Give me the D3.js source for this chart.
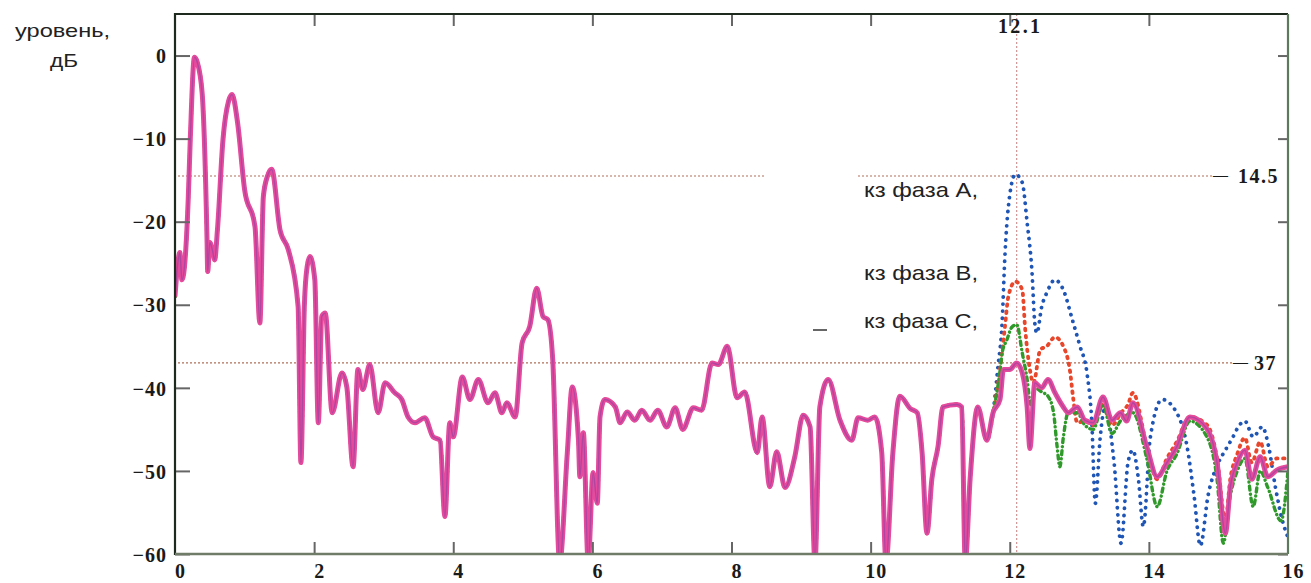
<!DOCTYPE html>
<html><head><meta charset="utf-8">
<script src="https://cdn.jsdelivr.net/npm/d3@7"></script>
<style>body{margin:0;background:#fff}svg{display:block}</style>
</head><body>
<svg id="c" width="1311" height="583"></svg>
<script>
// ---- data ----
const xTicks = [0, 2, 4, 6, 8, 10, 12, 14, 16];
const yTicks = [0, -10, -20, -30, -40, -50, -60];
const yTitle = ["уровень,", "дБ"];
const legendLabels = ["кз фаза А,", "кз фаза В,", "кз фаза С,"];
const markerX = 12.1;
const markerYs = [-14.5, -37];

// part common to all four curves (x, dB)
const sharedPart = [
[0,-29],[0.04,-25],[0.07,-23.7],[0.1,-27],[0.15,-24],[0.19,-17.3],[0.22,-10],[0.28,-0.2],[0.32,-0.8],[0.39,-4.5],
[0.46,-22],[0.47,-26],[0.5,-22.5],[0.54,-23.5],[0.57,-24.6],[0.61,-21],[0.69,-10.1],[0.77,-5.5],[0.82,-4.7],[0.9,-8.1],
[1.0,-16.1],[1.15,-20.6],[1.22,-32.2],[1.27,-17],[1.33,-14.5],[1.39,-13.7],[1.51,-21],[1.63,-23.4],[1.77,-30.2],[1.81,-49],
[1.86,-30],[1.9,-25.4],[1.94,-24.2],[2.01,-27],[2.06,-44.2],[2.11,-31.4],[2.16,-31],[2.26,-43],[2.4,-38.2],[2.47,-39.9],
[2.56,-49.5],[2.63,-37.8],[2.7,-40.2],[2.8,-37.2],[2.92,-43],[3.02,-39.4],[3.16,-40.6],[3.26,-41.4],[3.35,-43.5],[3.45,-44.2],
[3.59,-43.6],[3.71,-45.9],[3.81,-46.3],[3.88,-55.5],[3.95,-44.2],[4.0,-45.9],[4.13,-38.7],[4.24,-41.4],[4.36,-39],[4.5,-41.8],
[4.6,-40.6],[4.7,-43],[4.77,-41.8],[4.89,-43.5],[4.99,-34.6],[5.1,-32.6],[5.2,-28],[5.29,-31.4],[5.36,-31.8],[5.43,-36.6],
[5.53,-61],[5.64,-47.8],[5.71,-39.9],[5.8,-46.3],[5.82,-50.7],[5.87,-45.4],[5.94,-61],[6.01,-50.2],[6.07,-53.9],[6.11,-43.5],
[6.18,-41.4],[6.33,-42.3],[6.4,-44.2],[6.5,-42.9],[6.61,-43.9],[6.71,-42.7],[6.83,-43.9],[6.94,-42.7],[7.07,-44.7],[7.19,-42.4],
[7.3,-45],[7.45,-42.4],[7.57,-42.7],[7.72,-37],[7.81,-37.2],[7.94,-35],[8.08,-41.2],[8.19,-40.5],[8.37,-47.8],[8.44,-43.5],
[8.55,-51.9],[8.65,-47.7],[8.77,-52],[8.91,-48.3],[9.03,-43.3],[9.13,-44.7],[9.2,-61],[9.27,-42.3],[9.39,-39],[9.56,-43.9],
[9.73,-46.3],[9.82,-43.6],[9.96,-43.9],[10.06,-43.5],[10.16,-47.8],[10.22,-61],[10.32,-47.8],[10.42,-41],[10.57,-42.5],[10.67,-43],
[10.74,-47.8],[10.81,-57.5],[10.88,-51],[10.97,-47],[11.04,-42.3],[11.24,-42],[11.31,-42.3],[11.36,-61],[11.43,-51],[11.54,-42.3],
[11.67,-46.3],[11.76,-43]
];
const normalTail = [
[11.86,-41.4],[11.91,-37.8],[12.0,-37.8],[12.1,-37],[12.18,-38.2],[12.25,-42.3],[12.29,-47.3],[12.36,-39.4],[12.46,-40],[12.55,-39],
[12.65,-40.6],[12.77,-42.3],[12.84,-43],[12.97,-42.3],[13.08,-43.9],[13.2,-44.2],[13.34,-41.1],[13.47,-43.9],[13.59,-43],[13.68,-44],
[13.77,-41.8],[13.97,-47.1],[14.12,-50.7],[14.26,-49],[14.4,-47.1],[14.59,-43.5],[14.84,-45],[14.98,-49],[15.1,-57.5],[15.17,-52],
[15.27,-49],[15.38,-47.5],[15.48,-51],[15.6,-48.3],[15.71,-50.7],[15.84,-49.9],[16,-49.5]
];
const phaseATail = [
[11.83,-37.5],[11.89,-32.2],[11.93,-24.2],[11.98,-18.2],[12.08,-14.3],[12.18,-15.3],[12.25,-20.1],[12.32,-26.1],[12.36,-32.2],[12.39,-33.4],
[12.46,-30.2],[12.53,-28.6],[12.65,-27],[12.77,-28.2],[12.9,-31.8],[13.01,-35],[13.11,-38.2],[13.18,-44.2],[13.23,-53.9],[13.3,-46],
[13.37,-42.3],[13.5,-49],[13.6,-58.7],[13.7,-49],[13.77,-47.5],[13.85,-51],[13.92,-56.7],[14.02,-46],[14.19,-41.4],[14.4,-43],
[14.55,-47.1],[14.65,-53],[14.74,-59],[14.85,-53],[15.0,-49],[15.1,-47.5],[15.21,-45.9],[15.3,-44.5],[15.38,-44],[15.5,-45.9],
[15.63,-44.7],[15.72,-47],[15.82,-52],[15.92,-56],[16,-58]
];
const phaseBTail = [
[11.86,-37.8],[11.93,-32.7],[11.98,-29],[12.08,-27.2],[12.18,-28.2],[12.22,-32.7],[12.29,-37.8],[12.34,-39.4],[12.44,-35.4],[12.53,-35],
[12.65,-33.9],[12.77,-35],[12.87,-38.2],[12.91,-41.1],[12.97,-44.2],[13.08,-44],[13.2,-44.5],[13.34,-42],[13.47,-44.5],[13.6,-43],
[13.7,-42],[13.77,-40.6],[13.97,-47],[14.12,-51],[14.26,-48.5],[14.4,-46.5],[14.59,-43.5],[14.84,-44.5],[14.98,-48.5],[15.1,-56],
[15.17,-51],[15.27,-48],[15.38,-46],[15.48,-49],[15.6,-46.5],[15.71,-49.5],[15.84,-48.5],[16,-48.5]
];
const phaseCTail = [
[11.86,-38],[11.89,-35.8],[11.96,-34.2],[12.03,-32.7],[12.1,-32.4],[12.18,-35.8],[12.25,-39],[12.3,-42],[12.36,-40],[12.46,-40.5],
[12.55,-41],[12.63,-43],[12.68,-47],[12.72,-49.5],[12.77,-46],[12.84,-43],[12.97,-43],[13.08,-44.5],[13.2,-45],[13.34,-42],
[13.47,-45.5],[13.59,-44],[13.77,-43],[13.97,-48.5],[14.12,-54.3],[14.26,-50],[14.4,-48],[14.59,-44],[14.84,-46],[14.98,-51],
[15.07,-58.7],[15.17,-53],[15.27,-50],[15.38,-48.5],[15.5,-54.3],[15.6,-50],[15.71,-52],[15.9,-56],[16,-50]
];

const normal = sharedPart.concat(normalTail);
const phaseA = sharedPart.concat(phaseATail);
const phaseB = sharedPart.concat(phaseBTail);
const phaseC = sharedPart.concat(phaseCTail);

// ---- drawing ----
const svg = d3.select("#c");
const L = 175, R = 1288, T = 14, B = 554;
const x = d3.scaleLinear().domain([0, 16]).range([L, R]);
const y = d3.scaleLinear().domain([-60, 5]).range([B, T]);
const serif = "'Liberation Serif','Times New Roman',serif";
const sans = "'Liberation Sans',Arial,sans-serif";

svg.append("defs").append("clipPath").attr("id", "clip")
  .append("rect").attr("x", L).attr("y", T).attr("width", R - L).attr("height", B - T);

// marker lines
const mk = svg.append("g");
mk.append("line").attr("x1", x(markerX)).attr("x2", x(markerX)).attr("y1", T).attr("y2", B)
  .attr("stroke", "#c48a8a").attr("stroke-width", 1.1).attr("stroke-dasharray", "2 2");
mk.append("line").attr("x1", L + 3).attr("x2", 765).attr("y1", y(markerYs[0])).attr("y2", y(markerYs[0]))
  .attr("stroke", "#b0705a").attr("stroke-width", 1.1).attr("stroke-dasharray", "2 2");
mk.append("line").attr("x1", 858).attr("x2", 1213).attr("y1", y(markerYs[0])).attr("y2", y(markerYs[0]))
  .attr("stroke", "#b0705a").attr("stroke-width", 1.1).attr("stroke-dasharray", "2 2");
mk.append("line").attr("x1", L + 3).attr("x2", 1233).attr("y1", y(markerYs[1])).attr("y2", y(markerYs[1]))
  .attr("stroke", "#b0705a").attr("stroke-width", 1.1).attr("stroke-dasharray", "2 2");

// curves
const line = d3.line().curve(d3.curveMonotoneX).x(d => x(d[0])).y(d => y(d[1]));
const g = svg.append("g").attr("clip-path", "url(#clip)");
g.append("path").datum(phaseA).attr("d", line).attr("fill", "none")
  .attr("stroke", "#1f55b5").attr("stroke-width", 3.8).attr("stroke-linecap", "round")
  .attr("stroke-dasharray", "0.1 7");
g.append("path").datum(phaseB).attr("d", line).attr("fill", "none")
  .attr("stroke", "#e8472c").attr("stroke-width", 3.8).attr("stroke-linecap", "round")
  .attr("stroke-dasharray", "1.5 5.5");
g.append("path").datum(phaseC).attr("d", line).attr("fill", "none")
  .attr("stroke", "#2f9a2a").attr("stroke-width", 3.4).attr("stroke-linecap", "round")
  .attr("stroke-dasharray", "4 4 0.1 4");
g.append("path").datum(normal).attr("d", line).attr("fill", "none")
  .attr("stroke", "#e64a9c").attr("stroke-width", 5).attr("stroke-linejoin", "round");
g.append("path").datum(normal).attr("d", line).attr("fill", "none")
  .attr("stroke", "#7a3fa3").attr("stroke-width", 1.4).attr("stroke-opacity", 0.5)
  .attr("stroke-linejoin", "round");

// axes (ticks point inwards)
const ax = svg.append("g");
const axLeft = ax.append("g").attr("transform", `translate(${L},0)`)
  .call(d3.axisLeft(y).tickValues(yTicks).tickSize(-15).tickPadding(8));
const axRight = ax.append("g").attr("transform", `translate(${R},0)`)
  .call(d3.axisRight(y).tickValues(yTicks).tickSize(-10).tickFormat(""));
const axBottom = ax.append("g").attr("transform", `translate(0,${B})`)
  .call(d3.axisBottom(x).tickValues(xTicks.slice(1, -1)).tickSize(-12).tickPadding(10));
const axTop = ax.append("g").attr("transform", `translate(0,${T})`)
  .call(d3.axisTop(x).tickValues(xTicks.slice(1, -1)).tickSize(-12).tickFormat(""));
const axEnds = ax.append("g").attr("transform", `translate(0,${B})`)
  .call(d3.axisBottom(x).tickValues([xTicks[0], xTicks[xTicks.length - 1]]).tickSize(0).tickPadding(10));
[axLeft, axRight, axBottom, axTop, axEnds].forEach(s => {
  s.select(".domain").remove();
  s.selectAll(".tick line").attr("stroke", "#666").attr("stroke-width", 2);
  s.selectAll(".tick text").attr("fill", "#1a1a1a").style("font-family", serif)
    .style("font-size", "20px").style("font-weight", "bold").style("letter-spacing", "1px");
});
axBottom.selectAll(".tick text").attr("dx", 5);
axEnds.selectAll(".tick text").attr("dx", 5);
axLeft.selectAll(".tick text").attr("dy", "0.36em");

// frame
svg.append("line").attr("x1", L).attr("x2", L).attr("y1", T - 1).attr("y2", B + 1).attr("stroke", "#1e2a1e").attr("stroke-width", 2.2);
svg.append("line").attr("x1", L).attr("x2", R).attr("y1", T).attr("y2", T).attr("stroke", "#1e2a1e").attr("stroke-width", 2.2);
svg.append("line").attr("x1", R).attr("x2", R).attr("y1", T).attr("y2", B).attr("stroke", "#5d7a5d").attr("stroke-width", 2.2);
svg.append("line").attr("x1", L).attr("x2", R).attr("y1", B).attr("y2", B).attr("stroke", "#6f7d68").attr("stroke-width", 2.6);

// marker labels
svg.append("text").attr("x", 998).attr("y", 33).attr("textLength", 42).attr("lengthAdjust", "spacing")
  .style("font-family", serif).style("font-size", "20px").style("font-weight", "bold")
  .attr("fill", "#1a1a1a").text(String(markerX));
const mLabelX = [1213, 1233], mNumGap = [10, 6];
markerYs.forEach((v, i) => {
  const t = svg.append("text").attr("x", mLabelX[i]).attr("y", y(v) + 7)
    .style("font-family", serif).style("font-weight", "bold").attr("fill", "#1a1a1a");
  t.append("tspan").attr("dy", -3).style("font-size", "15px").text("\u2014");
  t.append("tspan").attr("dx", mNumGap[i]).attr("dy", 3).style("font-size", "20px").style("letter-spacing", "1.5px")
    .text(String(Math.abs(v)));
});

// legend texts
const legY = [197, 280, 328];
legendLabels.forEach((t, i) => {
  svg.append("text").attr("x", 864).attr("y", legY[i])
    .attr("textLength", 114).attr("lengthAdjust", "spacingAndGlyphs")
    .style("font-family", sans).style("font-size", "21px")
    .attr("fill", "#222").text(t);
});
svg.append("line").attr("x1", 813).attr("x2", 827).attr("y1", 330).attr("y2", 330).attr("stroke", "#333").attr("stroke-width", 1.5);

// y-axis title
svg.append("text").attr("x", 15).attr("y", 37).attr("textLength", 95).attr("lengthAdjust", "spacingAndGlyphs")
  .style("font-family", sans).style("font-size", "19px").attr("fill", "#222").text(yTitle[0]);
svg.append("text").attr("x", 50).attr("y", 67).attr("textLength", 28).attr("lengthAdjust", "spacingAndGlyphs")
  .style("font-family", sans).style("font-size", "19px").attr("fill", "#222").text(yTitle[1]);
</script>
</body></html>
